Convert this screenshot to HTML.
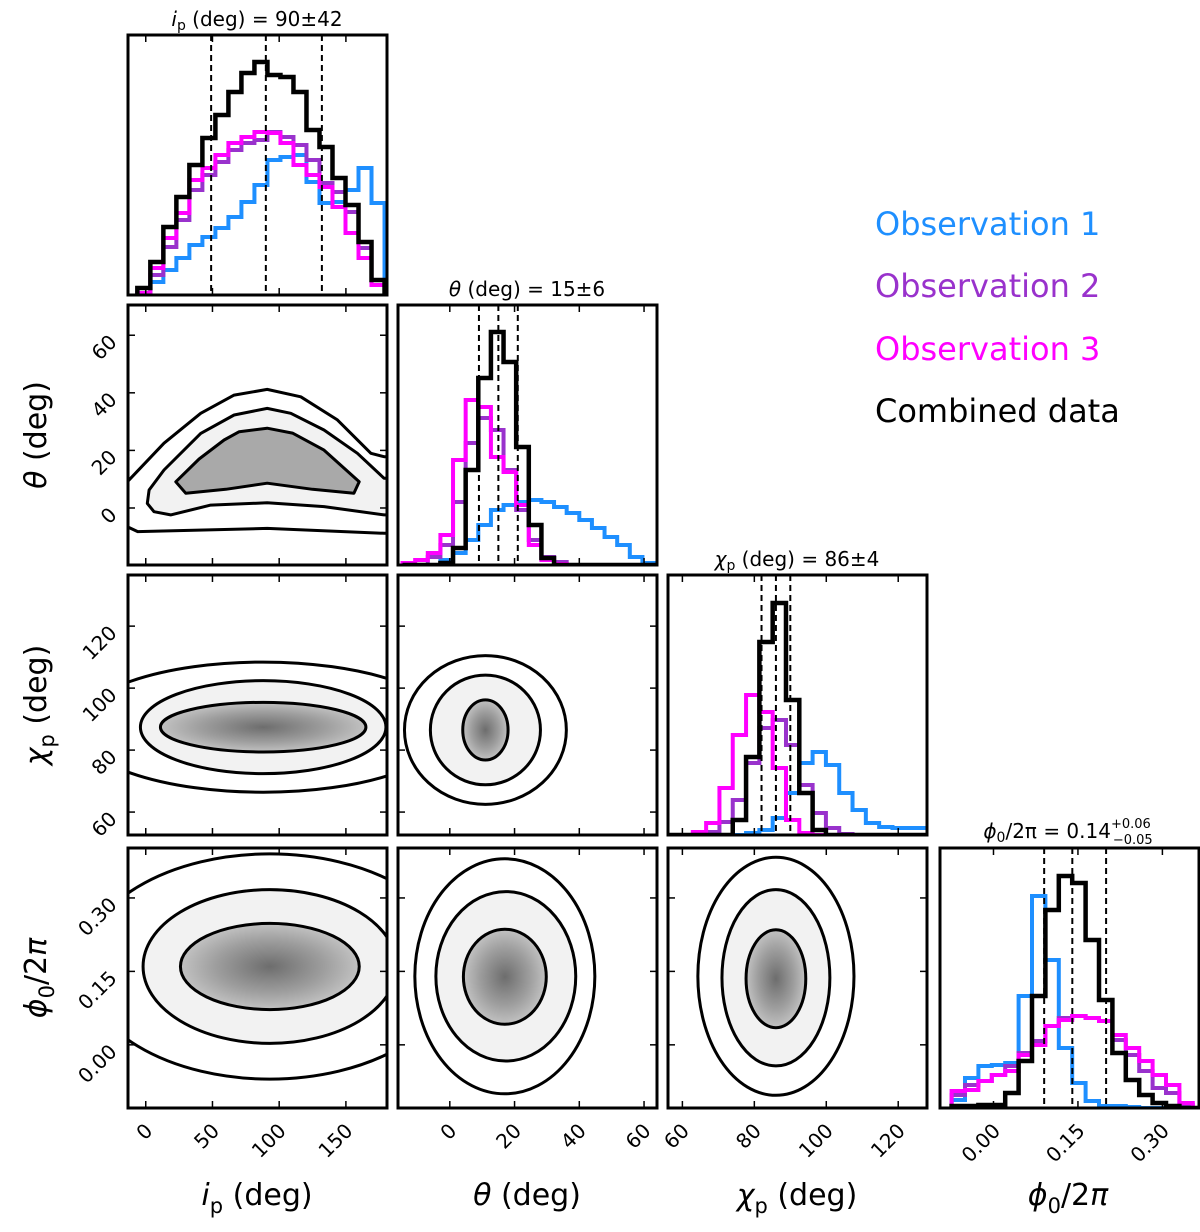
<!DOCTYPE html>
<html><head><meta charset="utf-8"><style>
html,body{margin:0;padding:0;background:#fff;}
svg{display:block;font-family:"DejaVu Sans","Liberation Sans",sans-serif;}
</style></head><body>
<svg id="c" width="1200" height="1232" viewBox="0 0 1200 1232"></svg>
<script>
// ---------- data ----------
const seriesNames = ["Observation 1","Observation 2","Observation 3","Combined data"];
const seriesColors = ["#1e8fff","#9932cc","#ff00ff","#000000"];
// i_p histogram (bin start, width)
const ipBins = [-6.3, 9.75];
const ipObs1 = [2,13,25,37,50,58,67,78,93,110,135,138,140,113,92,93,105,127,92];
const ipObs2 = [2,20,48,75,105,120,133,145,152,155,163,158,150,135,112,103,83,47,10];
const ipObs3 = [2,27,57,82,115,127,140,152,158,163,162,152,130,120,108,88,62,37,10];
const ipComb = [7,33,68,98,130,157,180,203,222,233,220,218,203,165,148,117,90,53,15];
// theta histogram
const thBins = [-14.6, 3.9];
const thObs1 = [0,0,0,5,12,25,40,55,60,63,65,63,58,52,45,37,28,20,8,2,0];
const thObs2 = [0,0,8,20,63,122,147,135,95,55,25,8,3,0,0,0,0,0,0,0,0];
const thObs3 = [2,5,12,30,105,165,158,108,93,60,20,5,1,0,0,0,0,0,0,0,0];
const thComb = [0,0,0,2,17,95,187,233,203,118,40,7,0,0,0,0,0,0,0,0,0];
// chi_p histogram
const chBins = [55.5, 3.7];
const chObs1 = [0,0,0,0,0,0,2,5,17,42,72,83,70,42,25,12,8,7,7,7];
const chObs2 = [0,0,0,3,13,35,72,107,115,90,50,22,7,1,0,0,0,0,0,0];
const chObs3 = [0,0,3,12,47,100,140,123,67,15,2,0,0,0,0,0,0,0,0,0];
const chComb = [0,0,0,0,0,15,78,193,232,135,42,5,0,0,0,0,0,0,0,0];
// phi0/2pi histogram
const phBins = [-0.0744, 0.0238];
const phObs1 = [8,30,42,43,45,112,212,148,60,25,7,2,2,1,0,0,0,0,0];
const phObs2 = [13,23,27,33,42,55,67,82,90,92,90,87,68,53,37,20,15,3,0];
const phObs3 = [17,18,27,33,37,53,63,82,88,92,90,87,73,60,47,33,23,5,0];
const phComb = [2,2,3,3,15,47,112,198,232,225,168,108,55,28,13,5,2,0,0];
// quantiles (16,50,84)
const ipQ = [49, 90, 132];
const thQ = [9, 15, 21];
const chQ = [82, 86, 90];
const phQ = [0.09, 0.14, 0.20];
// ip-theta contour polygons (data units: [ip, theta])
const ctIpThInner = [[22.5,9.1],[30,5.1],[60,6.5],[91,8.6],[125,6.5],[156,5.1],[160,9.1],[133.6,20.1],[110,26],[91,27.7],[70,26.5],[58.7,23.6],[40,17]];
const ctIpThMiddle = [[13.7,13.2],[41.2,25.9],[66.2,32.3],[91,34.6],[108.7,32.9],[133.6,27.1],[158.6,19],[178.6,10.3],[200,10.3],[200,-2.4],[178.6,-2.4],[133.6,0.5],[91,1.8],[48.7,1.0],[18.7,-2.4],[6.2,-1.3],[1.2,1.6],[2.5,6.25]];
const ctIpThOuter = [[-30,9.1],[-13.8,9.1],[13.7,22.5],[41.2,32.9],[66.2,39.2],[91,41.2],[116.2,38.6],[143.6,30.6],[168.7,19],[178.6,17.8],[200,17.8],[200,-8.8],[178.6,-8.8],[91,-7.1],[-6,-8.2],[-13.8,-6.5],[-30,-6.5]];
// ellipse contours [cx, cy, rx, ry] per level (inner, middle, outer)
const ctIpCh = [[88,87.4,77,8],[88,87.4,92,15],[88,87.4,140,21]];
const ctThCh = [[11,86.5,7,9.7],[11,86.5,17,17.7],[11,86.5,25,24]];
const ctIpPh = [[93,0.16,67,0.088],[93,0.16,95,0.157],[93,0.16,140,0.23]];
const ctThPh = [[17,0.139,12.8,0.097],[17.3,0.14,21.6,0.173],[17,0.14,27.8,0.24]];
const ctChPh = [[86,0.135,8.3,0.1],[86,0.137,15,0.18],[86,0.14,21.7,0.243]];
// tick labels
const ipTicks = [0,50,100,150];
const thTicks = [0,20,40,60];
const chTicks = [60,80,100,120];
const phTicks = [0.00,0.15,0.30];

// ---------- layout ----------
const NS="http://www.w3.org/2000/svg";
const svg=document.getElementById('c');
function mk(tag,attrs,parent){const e=document.createElementNS(NS,tag);for(const k in attrs)e.setAttribute(k,attrs[k]);(parent||svg).appendChild(e);return e;}
const colX=[128,398,668,940], rowY=[35,305,575,848], W=259, H=260;
const ranges={ip:[-13.3,180.8],th:[-16,64],ch:[56,128],phx:[-0.095,0.365]};
const yRanges={th:[-19.8,70.5],ch:[52.6,136.5],ph:[-0.129,0.402]};
function sx(v,c,r){return colX[c]+(v-r[0])/(r[1]-r[0])*W;}
function sy(v,rw,r){return rowY[rw]+H-(v-r[0])/(r[1]-r[0])*H;}
const defs=mk('defs',{});
let clipN=0;
function clip(c,rw){const id='cl'+(clipN++);const cp=mk('clipPath',{id:id},defs);mk('rect',{x:colX[c],y:rowY[rw],width:W,height:H},cp);return id;}
const rg=mk('radialGradient',{id:'dens'},defs);
mk('stop',{offset:'0%','stop-color':'#000','stop-opacity':'0.55'},rg);
mk('stop',{offset:'60%','stop-color':'#000','stop-opacity':'0.35'},rg);
mk('stop',{offset:'100%','stop-color':'#000','stop-opacity':'0.2'},rg);

function fmt(v,isPh){return isPh?v.toFixed(2):String(v);}

function xTicks(c,rw,r,ticks,isPh,labels){
  ticks.forEach(t=>{const x=sx(t,c,r);
    const tk=mk('line',{x1:x,x2:x,y1:rowY[rw]+H,y2:rowY[rw]+H-7,stroke:'#000','stroke-width':1.5});
    
    
    const tk2=mk('line',{x1:x,x2:x,y1:rowY[rw],y2:rowY[rw]+7,stroke:'#000','stroke-width':1.5});
    
    
    if(labels){const by=rowY[rw]+H+14;const tx=mk('text',{x:x+8,y:by+10,'text-anchor':'end','font-size':20,transform:`rotate(-45 ${x+8} ${by+10})`});tx.textContent=fmt(t,isPh);
      
      }
  });
}
function yTicks(c,rw,r,ticks,isPh,labels){
  ticks.forEach(t=>{const y=sy(t,rw,r);
    const tk=mk('line',{x1:colX[c],x2:colX[c]+7,y1:y,y2:y,stroke:'#000','stroke-width':1.5});
    
    
    const tk2=mk('line',{x1:colX[c]+W,x2:colX[c]+W-7,y1:y,y2:y,stroke:'#000','stroke-width':1.5});
    
    
    if(labels){const px=colX[c]-10, py=y+8;const tx=mk('text',{x:px,y:py,'text-anchor':'end','font-size':20,transform:`rotate(-45 ${px} ${py})`});tx.textContent=fmt(t,isPh);
      
      }
  });
}
function frame(c,rw,name){const f=mk('rect',{x:colX[c],y:rowY[rw],width:W,height:H,fill:'none',stroke:'#000','stroke-width':3});
  
  }

function hist(c,rw,r,bins,arrs,q,name){
  const g=mk('g',{'clip-path':`url(#${clip(c,rw)})`});
  
  
  const base=rowY[rw]+H;
  arrs.forEach((a,si)=>{
    let d='';
    a.forEach((v,i)=>{const x0=sx(bins[0]+i*bins[1],c,r),x1=sx(bins[0]+(i+1)*bins[1],c,r);const y=base-v;
      d+=(i===0?`M${x0},${base}L${x0},${y}`:`L${x0},${y}`)+`L${x1},${y}`;
      if(i===a.length-1)d+=`L${x1},${base}`;});
    const p=mk('path',{d:d,fill:'none',stroke:seriesColors[si],'stroke-width':si===3?4.5:4,'stroke-linejoin':'miter'},g);
    
    
  });
  q.forEach(v=>{const x=sx(v,c,r);const l=mk('line',{x1:x,x2:x,y1:rowY[rw],y2:base,stroke:'#000','stroke-width':2,'stroke-dasharray':'6,4'},g);
    
    });
}
function ellAttrs(e,c,rw,xr,yr){return {cx:sx(e[0],c,xr),cy:sy(e[1],rw,yr),rx:Math.abs(sx(e[0]+e[2],c,xr)-sx(e[0],c,xr)),ry:Math.abs(sy(e[1]+e[3],rw,yr)-sy(e[1],rw,yr))};}
function contour(c,rw,xr,yr,ct,name){
  const g=mk('g',{'clip-path':`url(#${clip(c,rw)})`});
  
  
  const a1=Object.assign(ellAttrs(ct[1],c,rw,xr,yr),{fill:'#000','fill-opacity':0.05});
  const f1=mk('ellipse',a1,g);
  
  
  const a0=Object.assign(ellAttrs(ct[0],c,rw,xr,yr),{fill:'url(#dens)'});
  const f0=mk('ellipse',a0,g);
  
  
  ct.forEach(e=>{const el=mk('ellipse',Object.assign(ellAttrs(e,c,rw,xr,yr),{fill:'none',stroke:'#000','stroke-width':3}),g);
    
    });
}
function polyContour(c,rw,xr,yr,levels,fills,name){
  const g=mk('g',{'clip-path':`url(#${clip(c,rw)})`});
  
  
  const paths=levels.map(L=>'M'+L.map(p=>sx(p[0],c,xr).toFixed(1)+','+sy(p[1],rw,yr).toFixed(1)).join('L')+'Z');
  paths.forEach((d,i)=>{const f=mk('path',{d:d,fill:'#000','fill-opacity':fills[i],stroke:'none'},g);
    
    });
  paths.forEach(d=>{const p=mk('path',{d:d,fill:'none',stroke:'#000','stroke-width':3,'stroke-linejoin':'round'},g);
    
    });
}
// diagonal
hist(0,0,ranges.ip,ipBins,[ipObs1,ipObs2,ipObs3,ipComb],ipQ,'ip-histogram');
hist(1,1,ranges.th,thBins,[thObs1,thObs2,thObs3,thComb],thQ,'theta-histogram');
hist(2,2,ranges.ch,chBins,[chObs1,chObs2,chObs3,chComb],chQ,'chi-histogram');
hist(3,3,ranges.phx,phBins,[phObs1,phObs2,phObs3,phComb],phQ,'phi-histogram');
// 2d
polyContour(0,1,ranges.ip,yRanges.th,[ctIpThOuter,ctIpThMiddle,ctIpThInner],[0.0,0.05,0.3],'ip-theta-contour');
contour(0,2,ranges.ip,yRanges.ch,ctIpCh,'ip-chi-contour');
contour(1,2,ranges.th,yRanges.ch,ctThCh,'theta-chi-contour');
contour(0,3,ranges.ip,yRanges.ph,ctIpPh,'ip-phi-contour');
contour(1,3,ranges.th,yRanges.ph,ctThPh,'theta-phi-contour');
contour(2,3,ranges.ch,yRanges.ph,ctChPh,'chi-phi-contour');
// frames and ticks
const xr=[ranges.ip,ranges.th,ranges.ch,ranges.phx], xt=[ipTicks,thTicks,chTicks,phTicks];
const yr=[null,yRanges.th,yRanges.ch,yRanges.ph];
for(let rw=0;rw<4;rw++)for(let c=0;c<=rw;c++){
  xTicks(c,rw,xr[c],xt[c],c===3,rw===3);
  if(c<rw) yTicks(c,rw,yr[rw],xt[rw],rw===3,c===0);
  frame(c,rw,c===rw?'diag-panel':'panel-2d');
}
</script>
<svg width="1200" height="1232" style="position:absolute;left:0;top:0">
<g font-family="DejaVu Sans, Liberation Sans, sans-serif" fill="#000">
<text x="257" y="26" font-size="20" text-anchor="middle"><tspan font-style="italic">i</tspan><tspan font-size="14" dy="4">p</tspan><tspan dy="-4"> (deg) = 90±42</tspan></text>
<text x="527" y="296" font-size="20" text-anchor="middle"><tspan font-style="italic">θ</tspan> (deg) = 15±6</text>
<text x="797" y="566" font-size="20" text-anchor="middle"><tspan font-style="italic">χ</tspan><tspan font-size="14" dy="4">p</tspan><tspan dy="-4"> (deg) = 86±4</tspan></text>
<text x="1068" y="838" font-size="20" text-anchor="middle"><tspan font-style="italic">ϕ</tspan><tspan font-size="14" dy="4">0</tspan><tspan dy="-4">/2π = 0.14</tspan><tspan font-size="13" dy="-10">+0.06</tspan><tspan font-size="13" dx="-38" dy="16">−0.05</tspan></text>
<text x="875" y="235" font-size="32" fill="#1e8fff">Observation 1</text>
<text x="875" y="297" font-size="32" fill="#9932cc">Observation 2</text>
<text x="875" y="360" font-size="32" fill="#ff00ff">Observation 3</text>
<text x="875" y="422" font-size="32" fill="#000">Combined data</text>
<text transform="translate(46 435) rotate(-90)" font-size="30" text-anchor="middle"><tspan font-style="italic">θ</tspan> (deg)</text>
<text transform="translate(46 705) rotate(-90)" font-size="30" text-anchor="middle"><tspan font-style="italic">χ</tspan><tspan font-size="21" dy="8">p</tspan><tspan dy="-8"> (deg)</tspan></text>
<text transform="translate(46 978) rotate(-90)" font-size="30" text-anchor="middle"><tspan font-style="italic">ϕ</tspan><tspan font-size="21" dy="8">0</tspan><tspan dy="-8">/2</tspan><tspan font-style="italic">π</tspan></text>
<text x="257" y="1205" font-size="30" text-anchor="middle"><tspan font-style="italic">i</tspan><tspan font-size="21" dy="8">p</tspan><tspan dy="-8"> (deg)</tspan></text>
<text x="527" y="1205" font-size="30" text-anchor="middle"><tspan font-style="italic">θ</tspan> (deg)</text>
<text x="797" y="1205" font-size="30" text-anchor="middle"><tspan font-style="italic">χ</tspan><tspan font-size="21" dy="8">p</tspan><tspan dy="-8"> (deg)</tspan></text>
<text x="1068" y="1205" font-size="30" text-anchor="middle"><tspan font-style="italic">ϕ</tspan><tspan font-size="21" dy="8">0</tspan><tspan dy="-8">/2</tspan><tspan font-style="italic">π</tspan></text>
</g></svg>
</body></html>
